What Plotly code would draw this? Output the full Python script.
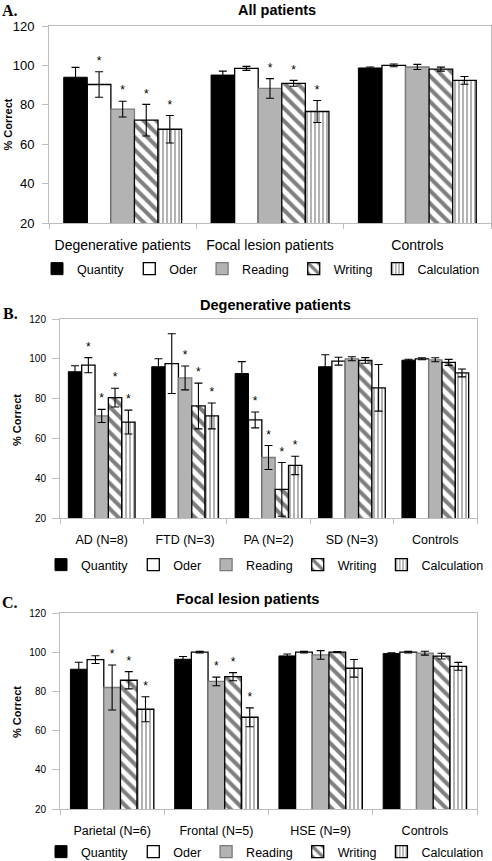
import plotly.graph_objects as go

SERIES = ["Quantity", "Oder", "Reading", "Writing", "Calculation"]

# ---------------- Panel A : All patients ----------------
groups_a = ["Degenerative patients", "Focal lesion patients", "Controls"]
quantity_a = [94.0, 95.1, 98.7]
oder_a = [90.3, 98.5, 100.0]
reading_a = [77.8, 88.3, 99.2]
writing_a = [72.2, 90.9, 98.1]
calculation_a = [67.6, 76.6, 92.4]
quantity_a_err = [5.0, 2.0, 0.5]
oder_a_err = [6.5, 1.0, 0.7]
reading_a_err = [4.0, 5.0, 1.3]
writing_a_err = [8.0, 1.5, 1.0]
calculation_a_err = [7.0, 5.6, 2.0]
quantity_a_sig = [0, 0, 0]
oder_a_sig = [1, 0, 0]
reading_a_sig = [1, 1, 0]
writing_a_sig = [1, 1, 0]
calculation_a_sig = [1, 1, 0]

# ---------------- Panel B : Degenerative patients ----------------
groups_b = ["AD (N=8)", "FTD (N=3)", "PA (N=2)", "SD (N=3)", "Controls"]
quantity_b = [93.5, 96.0, 92.6, 96.0, 99.3]
oder_b = [96.8, 97.6, 69.3, 98.8, 100.0]
reading_b = [71.3, 90.4, 50.4, 100.0, 99.5]
writing_b = [80.5, 76.3, 34.4, 99.2, 98.2]
calculation_b = [68.2, 71.3, 46.4, 85.4, 92.9]
quantity_b_err = [3.0, 4.0, 6.0, 6.0, 0.5]
oder_b_err = [3.8, 15.0, 4.0, 2.0, 0.5]
reading_b_err = [3.3, 6.0, 6.0, 1.0, 1.0]
writing_b_err = [4.7, 11.5, 13.5, 1.4, 1.5]
calculation_b_err = [6.0, 6.5, 4.6, 11.7, 2.0]
quantity_b_sig = [0, 0, 0, 0, 0]
oder_b_sig = [1, 0, 1, 0, 0]
reading_b_sig = [1, 1, 1, 0, 0]
writing_b_sig = [1, 1, 1, 0, 0]
calculation_b_sig = [1, 1, 1, 0, 0]

# ---------------- Panel C : Focal lesion patients ----------------
groups_c = ["Parietal (N=6)", "Frontal (N=5)", "HSE (N=9)", "Controls"]
quantity_c = [91.3, 96.4, 98.1, 99.3]
oder_c = [96.2, 100.0, 100.0, 100.0]
reading_c = [82.0, 85.1, 98.6, 99.5]
writing_c = [85.7, 87.5, 100.0, 98.0]
calculation_c = [70.9, 66.8, 91.8, 92.8]
quantity_c_err = [3.6, 1.4, 1.0, 0.4]
oder_c_err = [2.0, 0.4, 0.4, 0.4]
reading_c_err = [11.5, 2.2, 2.2, 1.0]
writing_c_err = [4.4, 2.1, 0.3, 1.5]
calculation_c_err = [6.4, 4.8, 4.5, 2.0]
quantity_c_sig = [0, 0, 0, 0]
oder_c_sig = [0, 0, 0, 0]
reading_c_sig = [1, 1, 0, 0]
writing_c_sig = [1, 1, 0, 0]
calculation_c_sig = [1, 1, 0, 0]

# ---------------- styling ----------------
W, H = 492, 861
AXIS = "#bdbdbd"
FONT = "Liberation Sans, Arial, sans-serif"
SERIF = "Liberation Serif, Times New Roman, serif"
BARGAP = 0.2
STAR_GAP = 5.0

STYLES = {
    "Quantity": dict(color="black", line=dict(color="black", width=1)),
    "Oder": dict(color="white", line=dict(color="black", width=1.3)),
    "Reading": dict(color="#b3b3b3", line=dict(color="#7a7a7a", width=1.3)),
    "Writing": dict(color="white", line=dict(color="black", width=1.3),
                    pattern=dict(shape="\\", fgcolor="black", bgcolor="white",
                                 size=9, solidity=0.45)),
    "Calculation": dict(color="white", line=dict(color="black", width=1.3),
                        pattern=dict(shape="|", fgcolor="black", bgcolor="white",
                                     size=4, solidity=0.3)),
}

fig = go.Figure()


def add_panel(groups, vals, errs, sigs, xa, ya, legend):
    n = len(groups)
    xs = list(range(n))
    w = (1 - BARGAP) / len(SERIES)
    for k, s in enumerate(SERIES):
        fig.add_trace(go.Bar(
            x=xs, y=vals[k], name=s, marker=STYLES[s],
            error_y=dict(type="data", array=errs[k], color="black",
                         thickness=1.1, width=4),
            xaxis=xa, yaxis=ya, legend=legend, showlegend=True,
        ))
    for k, s in enumerate(SERIES):
        sx, sy = [], []
        for i in range(n):
            if sigs[k][i]:
                sx.append(i + (k - 2) * w)
                sy.append(vals[k][i] + errs[k][i] + STAR_GAP)
        if sx:
            fig.add_trace(go.Scatter(
                x=sx, y=sy, mode="text", text=["*"] * len(sx),
                textposition="middle center",
                textfont=dict(size=12, color="black", family=FONT),
                xaxis=xa, yaxis=ya, showlegend=False, hoverinfo="skip",
            ))


add_panel(groups_a,
          [quantity_a, oder_a, reading_a, writing_a, calculation_a],
          [quantity_a_err, oder_a_err, reading_a_err, writing_a_err, calculation_a_err],
          [quantity_a_sig, oder_a_sig, reading_a_sig, writing_a_sig, calculation_a_sig],
          "x", "y", "legend")
add_panel(groups_b,
          [quantity_b, oder_b, reading_b, writing_b, calculation_b],
          [quantity_b_err, oder_b_err, reading_b_err, writing_b_err, calculation_b_err],
          [quantity_b_sig, oder_b_sig, reading_b_sig, writing_b_sig, calculation_b_sig],
          "x2", "y2", "legend2")
add_panel(groups_c,
          [quantity_c, oder_c, reading_c, writing_c, calculation_c],
          [quantity_c_err, oder_c_err, reading_c_err, writing_c_err, calculation_c_err],
          [quantity_c_sig, oder_c_sig, reading_c_sig, writing_c_sig, calculation_c_sig],
          "x3", "y3", "legend3")


def px_x(p):
    return p / W


def px_y(p):
    return 1 - p / H


def xaxis_cfg(x0, x1, groups, fsize, standoff, anchor):
    n = len(groups)
    return dict(
        domain=[px_x(x0), px_x(x1)], anchor=anchor,
        range=[-0.5, n - 0.5], tickmode="array", tickvals=list(range(n)),
        ticktext=groups, ticks="", ticklabelstandoff=standoff,
        tickfont=dict(size=fsize, color="black", family=FONT),
        showline=True, linecolor=AXIS, linewidth=1, mirror=True,
        showgrid=False, zeroline=False, fixedrange=True,
        minor=dict(tickmode="array", tickvals=[i - 0.5 for i in range(n + 1)],
                   ticks="outside", ticklen=5, tickcolor=AXIS, tickwidth=1,
                   showgrid=False),
    )


def yaxis_cfg(y_top, y_bot, fsize, ticklen, standoff, anchor):
    return dict(
        domain=[px_y(y_bot), px_y(y_top)], anchor=anchor,
        range=[20, 120], tickmode="linear", tick0=20, dtick=20,
        ticks="outside", ticklen=ticklen, tickcolor=AXIS, tickwidth=1,
        ticklabelstandoff=standoff,
        tickfont=dict(size=fsize, color="black", family=FONT),
        showline=True, linecolor=AXIS, linewidth=1, mirror=True,
        showgrid=False, zeroline=False, fixedrange=True,
    )


def legend_cfg(x_px, y_px):
    return dict(orientation="h", x=px_x(x_px), xanchor="left",
                y=px_y(y_px), yanchor="middle",
                font=dict(size=12.5, color="black", family=FONT),
                bgcolor="rgba(0,0,0,0)", borderwidth=0)


annotations = []


def text_ann(txt, x, y, size, bold=True, family=FONT, angle=0,
             xanchor="center", yanchor="middle"):
    annotations.append(dict(
        text=f"<b>{txt}</b>" if bold else txt, x=px_x(x), y=px_y(y),
        xref="paper", yref="paper", showarrow=False,
        xanchor=xanchor, yanchor=yanchor, textangle=angle,
        font=dict(size=size, color="black", family=family)))


text_ann("A.", 10, 10, 16, family=SERIF)
text_ann("B.", 10, 313, 16, family=SERIF)
text_ann("C.", 10, 602, 16, family=SERIF)
text_ann("All patients", 277, 9.5, 14.5)
text_ann("Degenerative patients", 275, 305, 14.5)
text_ann("Focal lesion patients", 248, 599, 14.5)
text_ann("% Correct", 7.5, 125, 11, angle=-90)
text_ann("% Correct", 17, 420, 11, angle=-90)
text_ann("% Correct", 17, 712, 11, angle=-90)

fig.update_layout(
    width=W, height=H,
    margin=dict(l=0, r=0, t=0, b=0, autoexpand=False),
    barmode="group", bargap=BARGAP, bargroupgap=0,
    plot_bgcolor="white", paper_bgcolor="white",
    font=dict(family=FONT, size=13, color="black"),
    xaxis=xaxis_cfg(49, 491, groups_a, 14, 9, "y"),
    yaxis=yaxis_cfg(26, 223, 13, 6, 5, "x"),
    xaxis2=xaxis_cfg(60, 477, groups_b, 12.5, 10, "y2"),
    yaxis2=yaxis_cfg(319, 518, 10, 7, 4, "x2"),
    xaxis3=xaxis_cfg(60, 477, groups_c, 12.5, 10, "y3"),
    yaxis3=yaxis_cfg(613, 809, 10, 7, 4, "x3"),
    legend=legend_cfg(37, 269),
    legend2=legend_cfg(41, 565),
    legend3=legend_cfg(41, 852),
    annotations=annotations,
    hovermode=False,
)

fig.write_html(
    "out.html",
    config={"displayModeBar": False},
    post_script="document.body.style.margin='0px';document.body.style.overflow='hidden';",
)
